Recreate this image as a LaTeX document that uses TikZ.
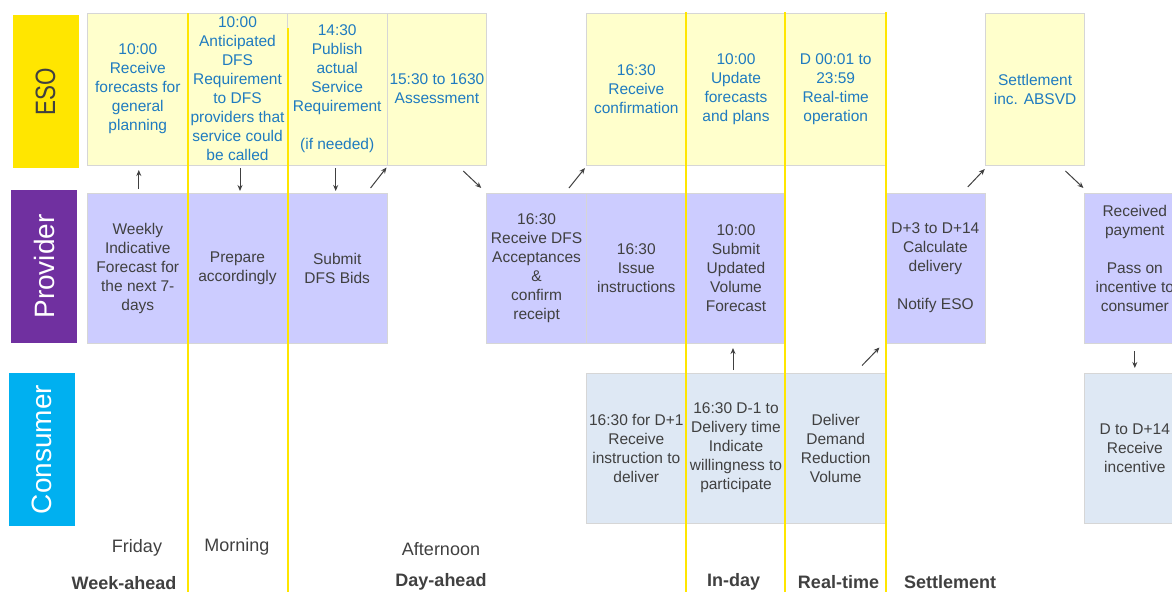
\documentclass[tikz,border=0pt]{standalone}
\usepackage{fontspec}
\setmainfont{Liberation Sans}
\usetikzlibrary{arrows.meta}
\definecolor{esoyellow}{HTML}{FFE600}
\definecolor{esofill}{HTML}{FFFFCC}
\definecolor{esotext}{HTML}{1F7BC0}
\definecolor{provpurple}{HTML}{7030A0}
\definecolor{provfill}{HTML}{CCCCFF}
\definecolor{consblue}{HTML}{00B0F0}
\definecolor{consfill}{HTML}{DEE8F4}
\definecolor{boxline}{HTML}{D6D6D6}
\definecolor{darktext}{HTML}{404040}
\begin{document}
\begin{tikzpicture}[x=1pt, y=-1pt,
    lane/.style={rotate=90, minimum width=153pt, minimum height=66pt, inner sep=0pt, font=\fontsize{28}{30}\selectfont},
    cell/.style={draw=boxline, line width=1pt, minimum width=99.7pt, minimum height=150pt, inner sep=1pt, align=center, font=\fontsize{15.5}{19}\selectfont},
    esocell/.style={cell, fill=esofill, text=esotext, minimum height=152pt},
    provcell/.style={cell, fill=provfill, text=darktext},
    conscell/.style={cell, fill=consfill, text=darktext},
    divider/.style={esoyellow, line width=2pt},
    flow/.style={darktext, line width=1pt, -{Stealth[length=6pt, width=5pt]}},
    period/.style={text=darktext, font=\fontsize{18}{20}\selectfont},
    phase/.style={text=darktext, font=\bfseries\fontsize{18}{20}\selectfont}]
    \useasboundingbox (0,0) rectangle (1172,592);
    \clip (0,0) rectangle (1172,592);

    \node[lane, fill=esoyellow, text=darktext] (esolane) at (45.5,91.5) {\scalebox{0.8}[1]{ESO}};
    \node[lane, fill=provpurple, text=white] (provlane) at (44,266.5) {Provider};
    \node[lane, fill=consblue, text=white] (conslane) at (42,449.5) {Consumer};

    \node[esocell] (eso0) at (137.8,89) {10:00\\Receive\\forecasts for\\general\\planning};
    \node[esocell] (eso1) at (237.5,89) {10:00\\Anticipated\\DFS\\Requirement\\to DFS\\providers that\\service could\\be called};
    \node[esocell] (eso2) at (337.2,89) {14:30\\Publish\\actual\\Service\\Requirement\\ \\(if needed)};
    \node[esocell] (eso3) at (436.9,89) {15:30 to 1630\\Assessment};
    \node[esocell] (eso5) at (636.3,89) {16:30\\Receive\\confirmation};
    \node[esocell] (eso6) at (736,89) {10:00\\Update\\forecasts\\and plans};
    \node[esocell] (eso7) at (835.7,89) {D 00:01 to\\23:59\\Real-time\\operation};
    \node[esocell] (eso9) at (1035.1,89) {Settlement\\inc. ABSVD};

    \node[provcell] (prov0) at (137.8,268) {Weekly\\Indicative\\Forecast for\\the next 7-\\days};
    \node[provcell] (prov1) at (237.5,268) {Prepare\\accordingly};
    \node[provcell] (prov2) at (337.2,268) {Submit\\DFS Bids};
    \node[provcell] (prov4) at (536.6,268) {16:30\\Receive DFS\\Acceptances\\\&\\confirm\\receipt};
    \node[provcell] (prov5) at (636.3,268) {16:30\\Issue\\instructions};
    \node[provcell] (prov6) at (736,268) {10:00\\Submit\\Updated\\Volume\\Forecast};
    \node[provcell] (prov8) at (935.4,268) {D+3 to D+14\\Calculate\\delivery\\ \\Notify ESO};
    \node[provcell] (prov10) at (1134.8,268) {Received\\payment\\ \\Pass on\\incentive to\\consumer\\ ~};

    \node[conscell] (cons5) at (636.3,448) {16:30 for D+1\\Receive\\instruction to\\deliver};
    \node[conscell] (cons6) at (736,448) {16:30 D-1 to\\Delivery time\\Indicate\\willingness to\\participate};
    \node[conscell] (cons7) at (835.7,448) {Deliver\\Demand\\Reduction\\Volume};
    \node[conscell] (cons10) at (1134.8,448) {D to D+14\\Receive\\incentive};

    \draw[divider] (187.5,13) -- (187.5,592);
    \draw[divider] (287.5,28) -- (287.5,592);
    \draw[divider] (685.7,12) -- (685.7,592);
    \draw[divider] (785.4,12) -- (785.4,592);
    \draw[divider] (885.6,12) -- (885.6,592);

    \draw[flow] ([shift={(1,-3.5)}]prov0.north) -- ([shift={(1,4.5)}]eso0.south);
    \draw[flow] ([shift={(2.5,2.5)}]eso1.south) -- ([shift={(2.5,-1.5)}]prov1.north);
    \draw[flow] ([shift={(-1.5,2.5)}]eso2.south) -- ([shift={(-1.5,-1.5)}]prov2.north);
    \draw[flow] ([shift={(-17,-4.5)}]prov2.north east) -- ([shift={(0,2)}]eso3.south west);
    \draw[flow] ([shift={(-24,5.5)}]eso3.south east) -- ([shift={(-5,-4.5)}]prov4.north west);
    \draw[flow] ([shift={(-18,-4.5)}]prov4.north east) -- ([shift={(-1,2.5)}]eso5.south west);
    \draw[flow] ([shift={(-3,-2.5)}]cons6.north) -- ([shift={(-3,4.5)}]prov6.south);
    \draw[flow] ([shift={(-24,-7)}]cons7.north east) -- ([shift={(-5.6,4)}]prov8.south west);
    \draw[flow] ([shift={(-18,-5.5)}]prov8.north east) -- ([shift={(0,3.5)}]eso9.south west);
    \draw[flow] ([shift={(-20,5.5)}]eso9.south east) -- ([shift={(-1,-4.5)}]prov10.north west);
    \draw[flow] ([shift={(0,7.5)}]prov10.south) -- ([shift={(0,-4.5)}]cons10.north);

    \node[period] (friday) at (137,548) {Friday};
    \node[period] (morning) at (237,547) {Morning};
    \node[period] (afternoon) at (441,549) {Afternoon};
    \node[phase] (weekahead) at (124,583) {Week-ahead};
    \node[phase] (dayahead) at (441,582) {Day-ahead};
    \node[phase] (inday) at (733.5,582) {In-day};
    \node[phase] (realtime) at (838.5,582) {Real-time};
    \node[phase] (settlement) at (950,582) {Settlement};
\end{tikzpicture}
\end{document}
